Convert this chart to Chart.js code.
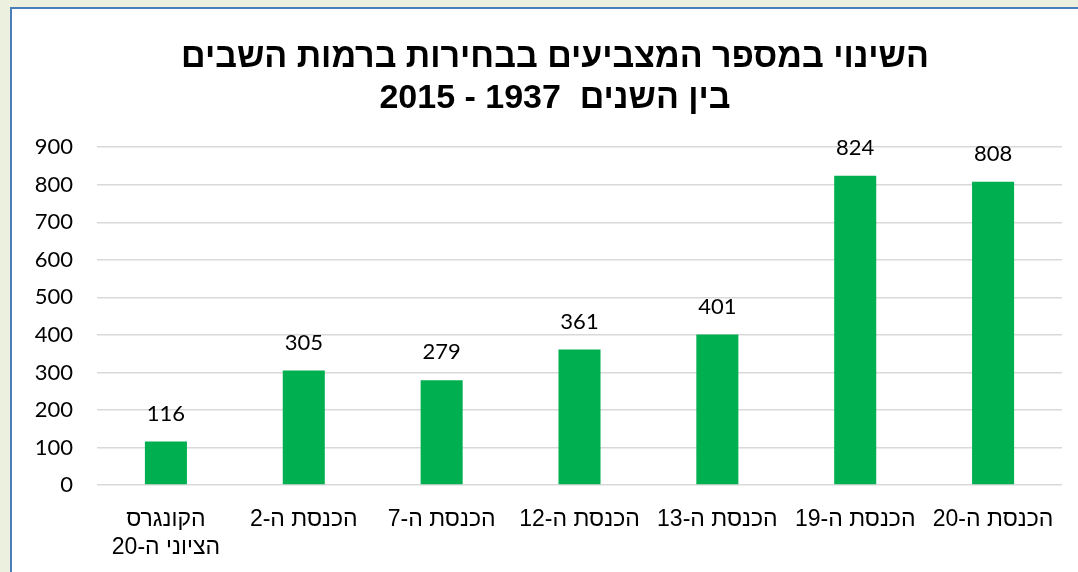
<!DOCTYPE html>
<html>
<head>
<meta charset="utf-8">
<script src="https://cdn.jsdelivr.net/npm/chart.js@4"></script>
<style>
	body { margin: 0; background: #ebf1de; overflow: hidden; width: 1078px; height: 572px; position: relative; }
	#frame { position: absolute; left: 10px; top: 7px; width: 1100px; height: 600px; border: 2px solid #4a7ebb; background: #fff; }
	#wrap { position: absolute; left: 12px; top: 9px; width: 1086px; height: 563px; }
</style>
</head>
<body>
<div id="frame"></div>
<div id="wrap"><canvas id="my_Chart" dir="rtl" width="1086" height="563"></canvas></div>
<script>
var Labels = [
	['הקונגרס', 'הציוני ה-20'],
	'הכנסת ה-2',
	'הכנסת ה-7',
	'הכנסת ה-12',
	'הכנסת ה-13',
	'הכנסת ה-19',
	'הכנסת ה-20'
];
var Values = [116, 305, 279, 361, 401, 824, 808];
var TitleLines = ['השינוי במספר המצביעים בבחירות ברמות השבים', 'בין השנים  1937 - 2015'];
var yMax = 900;
var yStep = 100;

// values above the bars
var barValues = {
	id: 'barValues',
	afterDatasetsDraw: function(chart) {
		var ctx = chart.ctx;
		var meta = chart.getDatasetMeta(0);
		ctx.save();
		ctx.font = '22px Lato, "Open Sans", sans-serif';
		ctx.fillStyle = '#000';
		ctx.textAlign = 'center';
		ctx.textBaseline = 'middle';
		meta.data.forEach(function(bar, i) {
			ctx.fillText(String(Values[i]), bar.x, bar.y - 28);
		});
		ctx.restore();
	}
};

var ctx = document.getElementById('my_Chart').getContext('2d');
var myChart = new Chart(ctx, {
	type: 'bar',
	data: {
		labels: Labels,
		datasets: [{
			data: Values,
			backgroundColor: '#00b050',
			barPercentage: 0.305,
			categoryPercentage: 1
		}]
	},
	options: {
		responsive: false,
		animation: false,
		layout: { padding: 0 },
		plugins: {
			legend: { display: false },
			tooltip: { enabled: false },
			title: {
				display: true,
				text: TitleLines,
				color: '#000',
				font: { family: '"Liberation Sans", Arial, sans-serif', size: 34, weight: 'bold', lineHeight: 1.18 },
				padding: { top: 29, bottom: 29 }
			}
		},
		scales: {
			x: {
				grid: { display: false, drawTicks: false },
				border: { display: false },
				ticks: {
					color: '#000',
					padding: 21,
					maxRotation: 0,
					autoSkip: false,
					font: { family: '"Liberation Sans", Arial, sans-serif', size: 23, lineHeight: 1.22 }
				},
				afterFit: function(scale) { scale.height = 87; }
			},
			y: {
				min: 0,
				max: yMax,
				grid: { color: '#d9d9d9', lineWidth: 1.5, drawTicks: false },
				border: { display: false },
				ticks: {
					stepSize: yStep,
					color: '#000',
					padding: 24,
					font: { family: 'Lato, "Open Sans", sans-serif', size: 22 }
				},
				afterFit: function(scale) { scale.width = 85; }
			},
			// empty spacer on the right so the title stays centred on the frame
			yRight: {
				position: 'right',
				grid: { display: false, drawTicks: false },
				border: { display: false },
				ticks: { display: false },
				afterFit: function(scale) { scale.width = 36; }
			}
		}
	},
	plugins: [barValues]
});
</script>
</body>
</html>
